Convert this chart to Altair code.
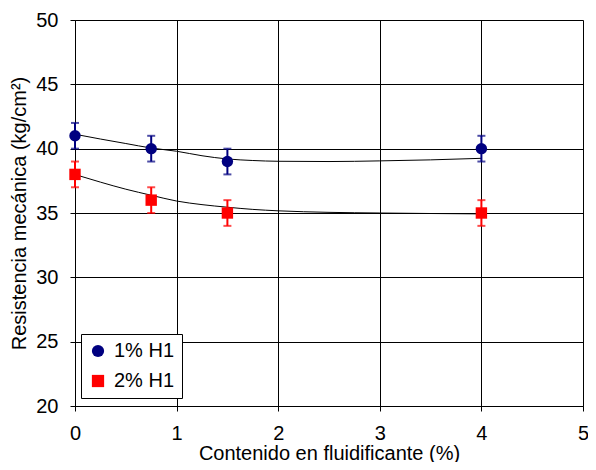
import altair as alt
import pandas as pd

x_vals = [0, 0.75, 1.5, 4]
y_1 = [41, 40, 39, 40]
y_2 = [38, 36, 35, 35]
err = [1, 1, 1, 1]
series_names = ["1% H1", "2% H1"]
colors = ["#000080", "#FF0000"]
shapes = ["circle", "square"]

curve_x = [0, 0.25, 0.5, 0.75, 1, 1.25, 1.5, 1.75, 2, 2.5, 3, 3.5, 4]
curve_1 = [41.12, 40.75, 40.4, 40.05, 39.8, 39.45, 39.2, 39.08, 39.02, 39.0, 39.05, 39.13, 39.25]
curve_2 = [37.99, 37.4, 36.85, 36.38, 35.93, 35.65, 35.45, 35.28, 35.17, 35.05, 35.0, 34.96, 34.93]

rows = []
for s, ys in zip(series_names, [y_1, y_2]):
    for x, y, e in zip(x_vals, ys, err):
        rows.append({"x": x, "y": y, "lo": y - e, "hi": y + e, "serie": s})
pts = pd.DataFrame(rows)

crows = []
for s, ys in zip(series_names, [curve_1, curve_2]):
    for x, y in zip(curve_x, ys):
        crows.append({"x": x, "y": y, "serie": s})
curves = pd.DataFrame(crows)

FONT = "Liberation Sans"
FS = 20

xs = alt.Scale(domain=[0, 5], nice=False)
ys_ = alt.Scale(domain=[20, 50], nice=False)
cscale = alt.Scale(domain=series_names, range=colors)
sscale = alt.Scale(domain=series_names, range=shapes)

xaxis = alt.Axis(values=[0, 1, 2, 3, 4, 5], format="d", title="Contenido en fluidificante (%)",
                 grid=True, gridColor="black", gridOpacity=1, gridWidth=1,
                 domainColor="black", tickColor="black", tickSize=5,
                 labelFont=FONT, labelFontSize=FS, labelColor="black", labelPadding=12,
                 titleFont=FONT, titleFontSize=FS, titleFontWeight="normal", titleColor="black",
                 titlePadding=0, labelFlush=False)
yaxis = alt.Axis(values=[20, 25, 30, 35, 40, 45, 50], format="d", title="Resistencia mecánica (kg/cm²)",
                 grid=True, gridColor="black", gridOpacity=1, gridWidth=1,
                 domainColor="black", tickColor="black", tickSize=5,
                 labelFont=FONT, labelFontSize=FS, labelColor="black", labelPadding=12,
                 titleFont=FONT, titleFontSize=FS, titleFontWeight="normal", titleColor="black",
                 titlePadding=6)

legend = alt.Legend(orient="none", legendX=6, legendY=314, title=None,
                    fillColor="white", strokeColor="black",
                    padding=7, labelFont=FONT, labelFontSize=FS,
                    labelColor="black", symbolSize=150, symbolOpacity=1, labelOffset=6,
                    rowPadding=10, symbolStrokeWidth=0)

color_enc = alt.Color("serie:N", scale=cscale, legend=legend)
shape_enc = alt.Shape("serie:N", scale=sscale, legend=legend)

base_pts = alt.Chart(pts)

lines = alt.Chart(curves).mark_line(color="black", strokeWidth=1, interpolate="monotone").encode(
    x=alt.X("x:Q", scale=xs, axis=xaxis),
    y=alt.Y("y:Q", scale=ys_, axis=yaxis),
    detail="serie:N",
)

rules = base_pts.mark_rule(strokeWidth=2).encode(
    x="x:Q", y="lo:Q", y2="hi:Q", color=color_enc,
)
caps_lo = base_pts.mark_tick(thickness=2, size=8, orient="horizontal").encode(
    x="x:Q", y="lo:Q", color=color_enc,
)
caps_hi = base_pts.mark_tick(thickness=2, size=8, orient="horizontal").encode(
    x="x:Q", y="hi:Q", color=color_enc,
)
points = base_pts.mark_point(filled=True, size=130, opacity=1).encode(
    x="x:Q", y="y:Q", color=color_enc, shape=shape_enc,
)

chart = alt.layer(lines, rules, caps_lo, caps_hi, points).properties(
    width=508, height=386, background="white",
    autosize=alt.AutoSizeParams(type="none"),
    padding={"left": 67, "top": 12, "right": 5, "bottom": 56},
).configure_view(stroke="black", strokeWidth=1).configure(
    font=FONT
)

chart.save("out.html", embed_options={"renderer": "svg", "actions": False})
